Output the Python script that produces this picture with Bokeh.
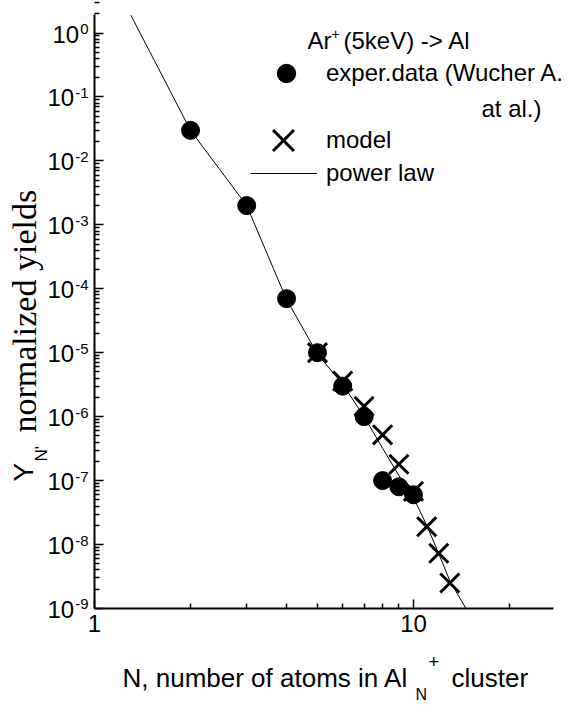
from math import pi
from bokeh.plotting import figure
from bokeh.models import Label, FixedTicker, Legend, LegendItem, Range1d
from bokeh.embed import file_html
from bokeh.resources import INLINE

# ---- data ----
exp_n = [2, 3, 4, 5, 6, 7, 8, 9, 10]
exp_y = [3.0e-2, 2.0e-3, 7.0e-5, 1.0e-5, 3.0e-6, 1.0e-6, 1.0e-7, 8.0e-8, 6.0e-8]

model_n = [5, 6, 7, 8, 9, 10, 11, 12, 13]
model_y = [1.0e-5, 3.6e-6, 1.45e-6, 5.2e-7, 1.8e-7, 6.8e-8, 1.9e-8, 7.3e-9, 2.5e-9]

law_n = [1.3, 2, 3, 4, 5, 6, 7, 8, 9, 10, 11, 12, 13, 14.6]
law_y = [1.9, 3.0e-2, 2.0e-3, 6.8e-5, 9.5e-6, 3.2e-6, 1.0e-6, 3.2e-7, 1.2e-7,
         5.4e-8, 2.0e-8, 7.2e-9, 2.7e-9, 1.0e-9]

x_ticks = [1, 10]
x_minor = [2, 3, 4, 5, 6, 7, 8, 9, 20]
x_bounds = (1, 27.5)
y_exponents = [0, -1, -2, -3, -4, -5, -6, -7, -8, -9]
y_bounds = (1e-9, 1.98)

SANS = "Liberation Sans"
SERIF = "Liberation Serif"

# ---- page geometry (page pixels) ----
OX, OY = 0, 0          # canvas origin on the page
W, H = 569, 705        # canvas size
AX_X0, DEC_X = 94.0, 319.0     # page x of N=1, pixels per decade
AX_Y0, DEC_Y = 32.5, 63.94     # page y of 10^0, pixels per decade

x_lo = 10 ** ((OX - AX_X0) / DEC_X)
x_hi = 10 ** ((OX + W - AX_X0) / DEC_X)
y_hi = 10 ** ((AX_Y0 - OY) / DEC_Y)
y_lo = 10 ** (-(OY + H - AX_Y0) / DEC_Y)

p = figure(width=W, height=H, x_axis_type="log", y_axis_type="log",
           x_range=Range1d(x_lo, x_hi), y_range=Range1d(y_lo, y_hi),
           output_backend="svg", toolbar_location=None,
           min_border_left=0, min_border_right=0,
           min_border_top=0, min_border_bottom=0)
p.outline_line_color = None
p.grid.visible = False
p.background_fill_color = "white"
p.border_fill_color = "white"

# axes, pinned at the corner of the data box
for ax in (p.xaxis[0], p.yaxis[0]):
    ax.axis_line_width = 2
    ax.axis_line_color = "black"
    ax.major_tick_in = 9
    ax.major_tick_out = 0
    ax.minor_tick_in = 5
    ax.minor_tick_out = 0
    ax.major_tick_line_width = 1.5
    ax.minor_tick_line_width = 1.5
    ax.major_tick_line_color = "black"
    ax.minor_tick_line_color = "black"

p.xaxis.fixed_location = y_bounds[0]
p.xaxis.bounds = x_bounds
p.xaxis.ticker = FixedTicker(ticks=x_ticks, minor_ticks=x_minor)
p.xaxis.major_label_overrides = {t: str(t) for t in x_ticks}
p.xaxis.major_label_text_font = SANS
p.xaxis.major_label_text_font_size = "24px"
p.xaxis.major_label_text_color = "black"
p.xaxis.major_label_standoff = 7

y_major = [10.0 ** e for e in y_exponents]
y_minor = [m * 10.0 ** e for e in range(-9, 1) for m in range(2, 10)]
p.yaxis.fixed_location = x_bounds[0]
p.yaxis.bounds = y_bounds
p.yaxis.ticker = FixedTicker(ticks=y_major, minor_ticks=y_minor)
p.yaxis.major_label_overrides = {t: "" for t in y_major}


def sx(px):
    return px - OX


def sy(py):
    return OY + H - py


def lab(text, px, py, size, font=SANS, align="left", baseline="middle", angle=0.0):
    p.add_layout(Label(x=sx(px), y=sy(py), x_units="screen", y_units="screen",
                       text=text, text_font=font, text_font_size=f"{size}px",
                       text_align=align, text_baseline=baseline, angle=angle,
                       text_color="black"))


# y tick labels: "10" with a superscript exponent
for e, v in zip(y_exponents, y_major):
    sup = str(e)
    supw = 8.3 * len(sup.replace("-", "")) + (5 if "-" in sup else 0)
    right = 88
    p.add_layout(Label(x=sx(right - supw - 1), y=v, x_units="screen", y_units="data",
                       text="10", text_font=SANS, text_font_size="24px",
                       text_align="right", text_baseline="middle", y_offset=-1,
                       text_color="black"))
    p.add_layout(Label(x=sx(right - supw), y=v, x_units="screen", y_units="data",
                       text=sup, text_font=SANS, text_font_size="15px",
                       text_align="left", text_baseline="middle", y_offset=4,
                       text_color="black"))

# data
law_r = p.line(law_n, law_y, line_color="black", line_width=1)
exp_r = p.scatter(exp_n, exp_y, marker="circle", size=18, fill_color="black",
                  line_color="black")
model_r = p.scatter(model_n, model_y, marker="x", size=27, line_color="black",
                    line_width=3)


def legend(label, rend, cx, cy, gw, gh, text_x, fsize):
    left = cx - gw / 2
    lg = Legend(items=[LegendItem(label=label, renderers=[rend])],
                location=(sx(left), sy(cy + gh / 2)), glyph_width=gw, glyph_height=gh,
                label_height=gh, label_standoff=int(round(text_x - (left + gw))),
                padding=0, margin=0, spacing=0,
                border_line_color=None, background_fill_alpha=0,
                label_text_font=SANS, label_text_font_size=f"{fsize}px",
                label_text_color="black")
    p.add_layout(lg)


legend("exper.data (Wucher A.", exp_r, 286, 73, 46, 46, 326, 24)
legend("model", model_r, 283, 140, 74, 74, 326, 24)
legend("power law", law_r, 283.5, 173, 67, 30, 326, 24)

# legend heading and continuation line
lab("Ar", 307, 40, 24)
lab("+", 331, 33, 14)
lab("(5keV) -> Al", 343, 40, 24)
lab("at al.)", 481, 108, 24)

# x axis title
lab("N, number of atoms in Al", 122, 677, 26)
lab("N", 415, 694, 16)
lab("+", 428, 661, 18)
lab("cluster", 451, 677, 26)

# y axis title (rotated)
lab("Y", 23, 481, 28, baseline="alphabetic", angle=pi / 2)
lab("N'", 41, 461, 17, baseline="alphabetic", angle=pi / 2)
lab("normalized yields", 24, 432, 34, font=SERIF, baseline="alphabetic", angle=pi / 2)

open("out.html", "w").write(file_html(p, INLINE))
